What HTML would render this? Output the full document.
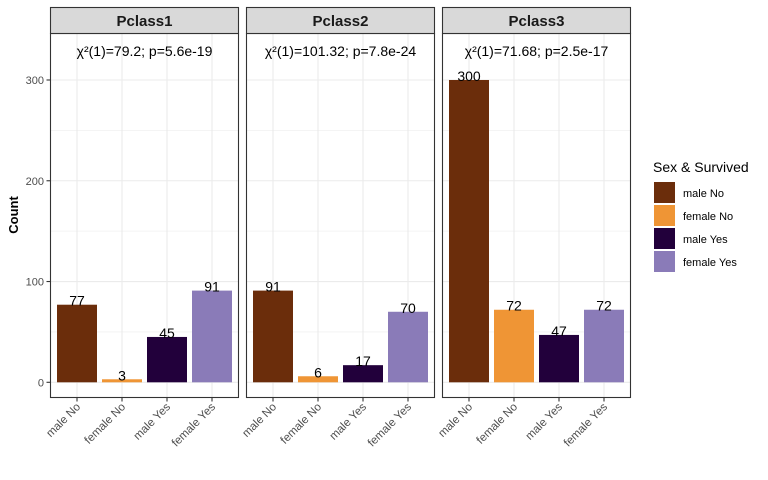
<!DOCTYPE html>
<html><head><meta charset="utf-8"><style>body{margin:0;background:#fff}svg{display:block;font-family:"Liberation Sans",sans-serif}</style></head>
<body>
<svg id="c" width="768" height="480" xmlns="http://www.w3.org/2000/svg"></svg>
<script>
const panels = ["Pclass1","Pclass2","Pclass3"];
const categories = ["male No","female No","male Yes","female Yes"];
const colors = ["#6b2d0b","#ef9535","#22003b","#8a7bb8"];
const counts1 = [77,3,45,91];
const counts2 = [91,6,17,70];
const counts3 = [300,72,47,72];
const allCounts = [counts1,counts2,counts3];
const stats = ["χ²(1)=79.2; p=5.6e-19","χ²(1)=101.32; p=7.8e-24","χ²(1)=71.68; p=2.5e-17"];
const yTicks = [0,100,200,300];
const yMinor = [50,150,250];

const svg = document.getElementById('c');
const NS = "http://www.w3.org/2000/svg";
function el(tag, attrs, parent){const e=document.createElementNS(NS,tag);for(const k in attrs)e.setAttribute(k,attrs[k]);(parent||svg).appendChild(e);return e;}
const y0=382.3, kk=1.0077;
function yS(v){return y0 - v*kk;}
const panelX=[50.5,246.5,442.5], pw=188, pTop=33.5, pBot=397.5;
function xS(p,i){return panelX[p]+26.5+45*i;}

panels.forEach((pname,p)=>{
  const g=el('g',{});
  
  
  yMinor.forEach(v=>el('line',{x1:panelX[p],x2:panelX[p]+pw,y1:yS(v),y2:yS(v),stroke:'#f0f0f0','stroke-width':0.8},g));
  yTicks.forEach(v=>el('line',{x1:panelX[p],x2:panelX[p]+pw,y1:yS(v),y2:yS(v),stroke:'#ebebeb','stroke-width':1.1},g));
  categories.forEach((c,i)=>el('line',{x1:xS(p,i),x2:xS(p,i),y1:pTop,y2:pBot,stroke:'#ebebeb','stroke-width':1.1},g));
  allCounts[p].forEach((v,i)=>{
    const b=el('rect',{x:xS(p,i)-20,y:yS(v),width:40,height:yS(0)-yS(v),fill:colors[i]},g);
    
    
    const t=el('text',{x:xS(p,i),y:yS(v)+1,'text-anchor':'middle','font-size':14,fill:'#000'},g);
    t.textContent=v;
    
    
  });
  el('rect',{x:panelX[p],y:pTop,width:pw,height:pBot-pTop,fill:'none',stroke:'#333','stroke-width':1.1},g);
  const s=el('rect',{x:panelX[p],y:7.5,width:pw,height:26,fill:'#d9d9d9',stroke:'#333','stroke-width':1.1},g);
  
  
  const st=el('text',{x:panelX[p]+pw/2,y:26,'text-anchor':'middle','font-size':15,'font-weight':'bold',fill:'#1a1a1a'},g);
  st.textContent=pname;
  
  
  const an=el('text',{x:panelX[p]+pw/2,y:56,'text-anchor':'middle','font-size':14,fill:'#000'},g);
  an.textContent=stats[p];
  
  
  categories.forEach((c,i)=>{
    el('line',{x1:xS(p,i),x2:xS(p,i),y1:pBot,y2:pBot+4,stroke:'#333','stroke-width':1.1},g);
    const x=xS(p,i)+4, y=pBot+10;
    const t=el('text',{x:x,y:y,'text-anchor':'end','font-size':11.5,fill:'#4d4d4d',transform:`rotate(-45 ${x} ${y})`},g);
    t.textContent=c;
    
    
  });
});
yTicks.forEach(v=>{
  el('line',{x1:46.5,x2:50.5,y1:yS(v),y2:yS(v),stroke:'#333','stroke-width':1.1});
  const t=el('text',{x:44,y:yS(v)+4,'text-anchor':'end','font-size':11,fill:'#4d4d4d'});
  t.textContent=v;
  
  
});
const yt=el('text',{x:18,y:215,'text-anchor':'middle','font-size':13,'font-weight':'bold',transform:'rotate(-90 18 215)'});
yt.textContent='Count';


const lg=el('g',{});


const lt=el('text',{x:653,y:172,'font-size':14,fill:'#000'},lg);
lt.textContent='Sex & Survived';


categories.forEach((c,i)=>{
  const yy=182+23*i;
  el('rect',{x:654,y:yy,width:21,height:21,fill:colors[i]},lg);
  const t=el('text',{x:683,y:yy+15,'font-size':11,fill:'#000'},lg);
  t.textContent=c;
  
  
});
</script>
</body></html>
